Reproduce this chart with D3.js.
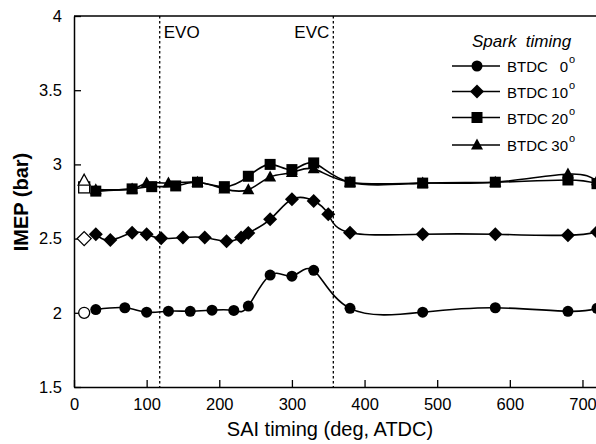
<!DOCTYPE html>
<html><head><meta charset="utf-8">
<script src="https://cdn.jsdelivr.net/npm/d3@7"></script>
<style>
body{margin:0;background:#fff;}
text{font-family:"Liberation Sans",Arial,sans-serif;fill:#000;}
</style></head>
<body><svg id="c" width="596" height="444"></svg>
<script>
// ---- data ----
const xTicks = [0,100,200,300,400,500,600,700];
const yTicks = [1.5,2,2.5,3,3.5,4];
const evo = 118, evc = 357;
const openX = 14;

const xBTDC0 = [30,70,100,130,160,190,220,240,270,300,330,380,480,580,680,720];
const yBTDC0 = [2.022,2.034,2.004,2.011,2.01,2.018,2.016,2.045,2.254,2.247,2.286,2.03,2.004,2.034,2.01,2.03];
const open0 = 2.0;

const xBTDC10 = [30,50,80,100,120,150,180,210,230,240,270,300,330,350,380,480,580,680,720];
const yBTDC10 = [2.529,2.49,2.54,2.53,2.502,2.507,2.507,2.482,2.507,2.538,2.63,2.765,2.754,2.664,2.54,2.529,2.529,2.522,2.545];
const open10 = 2.5;

const xBTDC20 = [30,80,107,140,170,207,240,270,300,330,380,480,580,680,720];
const yBTDC20 = [2.82,2.835,2.85,2.855,2.88,2.85,2.92,3.0,2.965,3.01,2.88,2.874,2.88,2.895,2.87];
const open20 = 2.845;

const xBTDC30 = [30,80,100,130,170,207,240,270,300,330,380,480,580,680,720];
const yBTDC30 = [2.83,2.835,2.875,2.875,2.88,2.835,2.83,2.915,2.945,2.97,2.88,2.874,2.88,2.935,2.89];
const open30 = 2.89;

const seriesNames = ["0","10","20","30"];
const shapes = ["circle","diamond","square","triangle"];

// ---- chart ----
const svg = d3.select("#c");
const x = d3.scaleLinear().domain([0,720]).range([74, 597]);
const y = d3.scaleLinear().domain([1.5,4]).range([387,16]);

const defs = svg.append("defs");
defs.append("clipPath").attr("id","clip").append("rect")
  .attr("x",74).attr("y",10).attr("width",530).attr("height",380);

// frame top
svg.append("line").attr("x1",x(0)).attr("x2",x(720)).attr("y1",y(4)).attr("y2",y(4))
  .attr("stroke","#000").attr("stroke-width",1.5);

// vertical dotted lines
[[evo,"EVO"],[evc,"EVC"]].forEach(([v,l])=>{
  svg.append("line").attr("x1",x(v)).attr("x2",x(v)).attr("y1",y(4)).attr("y2",y(1.5))
    .attr("stroke","#000").attr("stroke-width",1.3).attr("stroke-dasharray","2.5,2.5");
  svg.append("text").attr("x", l==="EVO"? x(v)+4 : x(v)-39).attr("y",38)
    .attr("font-size",17).text(l);
});

// axes
const gx = svg.append("g").attr("transform",`translate(0,${y(1.5)})`)
  .call(d3.axisBottom(x).tickValues(xTicks).tickSizeInner(-7).tickSizeOuter(0).tickPadding(11));
const gy = svg.append("g").attr("transform",`translate(${x(0)},0)`)
  .call(d3.axisLeft(y).tickValues(yTicks).tickFormat(d3.format("~g")).tickSizeInner(-7).tickSizeOuter(0).tickPadding(12));
[gx,gy].forEach(g=>{
  g.selectAll("path.domain").attr("stroke","#000").attr("stroke-width",1.5);
  g.selectAll(".tick line").attr("stroke","#000").attr("stroke-width",1.3);
  g.selectAll("text").attr("font-size",16.5).attr("font-family","Liberation Sans, Arial, sans-serif").attr("fill","#000");
});

// axis titles
svg.append("text").attr("x",330).attr("y",436).attr("text-anchor","middle")
  .attr("font-size",20).text("SAI timing (deg, ATDC)");
svg.append("text").attr("transform","translate(28,202) rotate(-90)").attr("text-anchor","middle")
  .attr("font-size",20).attr("font-weight","bold").text("IMEP (bar)");

// symbols
function sym(g, shape, cx, cy, open){
  let s;
  if(shape==="circle") s = g.append("circle").attr("cx",cx).attr("cy",cy).attr("r",5.5);
  else if(shape==="diamond") s = g.append("path").attr("d",`M${cx},${cy-7}L${cx+7},${cy}L${cx},${cy+7}L${cx-7},${cy}Z`);
  else if(shape==="square") s = g.append("rect").attr("x",cx-5.5).attr("y",cy-5.5).attr("width",11).attr("height",11);
  else s = g.append("path").attr("d",`M${cx},${cy-6.5}L${cx+6},${cy+4.5}L${cx-6},${cy+4.5}Z`);
  if(open) s.attr("fill","#fff").attr("stroke","#000").attr("stroke-width",1.3);
  else s.attr("fill","#000");
}

const data = [
  [xBTDC0,yBTDC0,open0],
  [xBTDC10,yBTDC10,open10],
  [xBTDC20,yBTDC20,open20],
  [xBTDC30,yBTDC30,open30]
];
const plot = svg.append("g").attr("clip-path","url(#clip)");
const line = d3.line().x(d=>x(d[0])).y(d=>y(d[1])).curve(d3.curveNatural);
data.forEach(([xs,ys],i)=>{
  const pts = xs.map((v,j)=>[v,ys[j]]);
  plot.append("path").attr("d",line(pts)).attr("fill","none").attr("stroke","#000").attr("stroke-width",1.6);
});
data.forEach(([xs,ys,o],i)=>{
  xs.forEach((v,j)=>sym(plot,shapes[i],x(v),y(ys[j]),false));
  sym(svg,shapes[i],x(openX),y(o),true);
});

// legend
svg.append("text").attr("x",472).attr("y",47).attr("font-size",17).attr("font-style","italic")
  .attr("xml:space","preserve").text("Spark  timing");
const rowsY = [66,91.5,117.5,145];
seriesNames.forEach((n,i)=>{
  const ly = rowsY[i];
  svg.append("line").attr("x1",452).attr("x2",500).attr("y1",ly).attr("y2",ly)
    .attr("stroke","#000").attr("stroke-width",1.5);
  sym(svg,shapes[i],477,ly,false);
  svg.append("text").attr("x",507).attr("y",ly+6).attr("font-size",15).text("BTDC");
  svg.append("text").attr("x",568).attr("y",ly+6).attr("text-anchor","end").attr("font-size",15).text(n);
  svg.append("text").attr("x",569).attr("y",ly-3).attr("font-size",11).text("o");
});
</script></body></html>
